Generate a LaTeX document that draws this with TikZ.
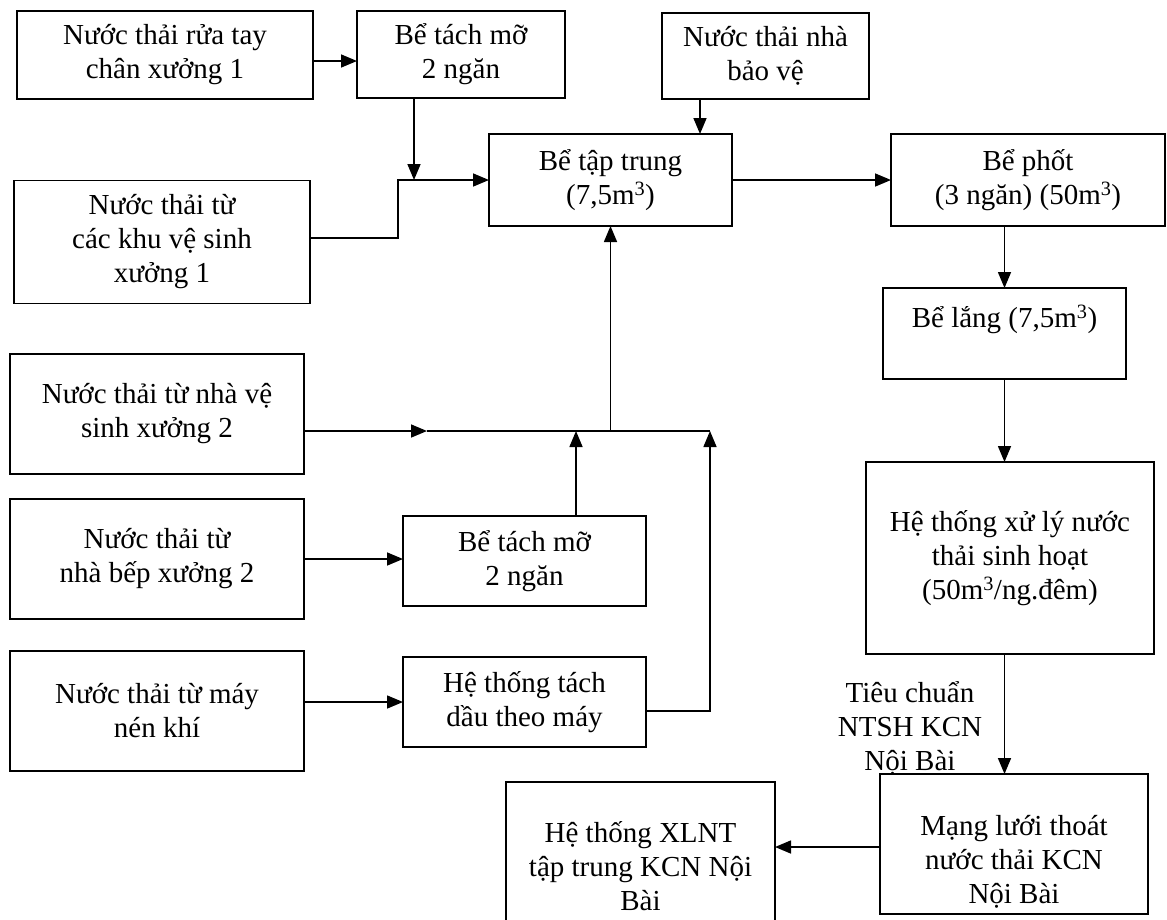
\documentclass[tikz,border=0pt]{standalone}
\usepackage{fontspec}
\setmainfont{Liberation Serif}
\usetikzlibrary{arrows.meta}
\newcommand{\flowfont}{\fontsize{29}{34}\selectfont}
\tikzset{
  flowbox/.style={draw, line width=1.5pt, inner sep=0pt, outer sep=0pt, align=center, font=\flowfont},
  flowarr/.style={-{Triangle[length=16pt,width=13pt]}, line width=1.6pt},
  flowline/.style={line width=1.6pt}
}
\begin{document}
\begin{tikzpicture}[x=1pt, y=-1pt]
  \useasboundingbox (0,0) rectangle (1167,919);
  \fill[white] (0,0) rectangle (1167,919);
  % sources, workshop 1
  \node[flowbox, minimum width=296pt, minimum height=88pt] (rua) at (165,55) {Nước thải rửa tay\\chân xưởng 1};
  \node[flowbox, minimum width=208pt, minimum height=87pt] (mo1) at (461,54.5) {Bể tách mỡ\\2 ngăn};
  \node[flowbox, minimum width=296pt, minimum height=123pt] (vs1) at (162,242) {Nước thải từ\\các khu vệ sinh\\xưởng 1};
  \node[flowbox, minimum width=207pt, minimum height=86pt] (bv) at (765.5,56) {Nước thải nhà\\bảo vệ};
  \node[flowbox, minimum width=243pt, minimum height=92pt] (taptrung) at (610.5,180) {Bể tập trung\\(7,5m\textsuperscript{3})};
  \node[flowbox, minimum width=274pt, minimum height=92pt] (phot) at (1028,180) {Bể phốt\\(3 ngăn) (50m\textsuperscript{3})};
  \node[flowbox, minimum width=243pt, minimum height=91pt] (lang) at (1004.5,333.5) {Bể lắng (7,5m\textsuperscript{3})\\\mbox{}};
  \node[flowbox, minimum width=288pt, minimum height=192pt] (xlsh) at (1010,558) {Hệ thống xử lý nước\\thải sinh hoạt\\(50m\textsuperscript{3}/ng.đêm)};
  \node[flowbox, minimum width=268pt, minimum height=140pt] (mang) at (1014,844) {};
  \node[font=\flowfont, align=center, inner sep=0pt] (mangtxt) at (1014,862) {Mạng lưới thoát\\nước thải KCN\\Nội Bài};
  \node[flowbox, minimum width=269pt, minimum height=168pt] (kcn) at (640.5,866) {Hệ thống XLNT\\tập trung KCN Nội\\Bài};
  % sources, workshop 2
  \node[flowbox, minimum width=294pt, minimum height=120pt] (vs2) at (157,414) {Nước thải từ nhà vệ\\sinh xưởng 2};
  \node[flowbox, minimum width=294pt, minimum height=120pt] (bep) at (157,559) {Nước thải từ\\nhà bếp xưởng 2};
  \node[flowbox, minimum width=294pt, minimum height=120pt] (khi) at (157,711) {Nước thải từ máy\\nén khí};
  \node[flowbox, minimum width=243pt, minimum height=90pt] (mo2) at (524.5,561) {Bể tách mỡ\\2 ngăn};
  \node[flowbox, minimum width=243pt, minimum height=90pt] (dau) at (524.5,702) {Hệ thống tách\\dầu theo máy};
  \node[font=\flowfont, align=center, inner sep=0pt] (tc) at (910,728) {Tiêu chuẩn\\NTSH KCN\\Nội Bài};
  % junctions
  \coordinate (j1) at (414,180);
  \coordinate (k1) at (398,180);
  \coordinate (bus) at (710,431);
  \coordinate (m1) at (427,431);
  % connectors
  \draw[flowarr] ([yshift=-6pt]rua.east) -- ([yshift=-6pt]rua.east -| mo1.west);
  \draw[flowarr] (mo1.south -| j1) -- (j1);
  \draw[flowarr] ([yshift=4pt]vs1.east) -| (k1) -- (taptrung.west);
  \draw[flowarr] (bv.south -| 700,0) -- (taptrung.north -| 700,0);
  \draw[flowarr] (taptrung.east) -- (phot.west);
  \draw[flowarr] (phot.south -| lang.north) -- (lang.north);
  \draw[flowarr] (lang.south) -- (lang.south |- xlsh.north);
  \draw[flowarr] (xlsh.south -| lang.south) -- (mang.north -| lang.south);
  \draw[flowarr] ([yshift=-3pt]mang.west) -- ([yshift=-3pt]mang.west -| kcn.east);
  \draw[flowarr] (vs2.east |- m1) -- (m1);
  \draw[flowline] (m1) -- (bus);
  \draw[flowarr] (taptrung.south |- bus) -- (taptrung.south);
  \draw[flowarr] (mo2.north -| 576,0) -- (bus -| 576,0);
  \draw[flowarr] (bep.east) -- (bep.east -| mo2.west);
  \draw[flowarr] (khi.east |- dau.west) -- (dau.west);
  \draw[flowarr] ([yshift=-9pt]dau.east) -| (bus);
\end{tikzpicture}
\end{document}
